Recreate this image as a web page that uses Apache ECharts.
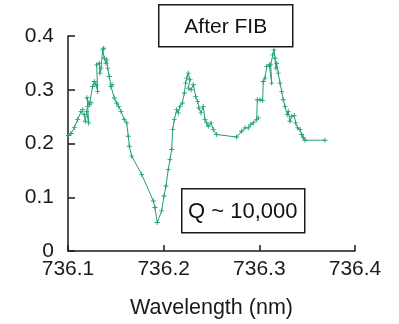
<!DOCTYPE html>
<html><head><meta charset="utf-8">
<script src="https://cdn.jsdelivr.net/npm/echarts@6/dist/echarts.min.js"></script>
<style>html,body{margin:0;padding:0;background:#fff}#c{width:399px;height:324px}</style>
</head><body><div id="c"></div>
<script>
var wavelength = [736.1005,736.1031,736.1066,736.1101,736.1136,736.1154,736.1170,736.1181,736.1195,736.1216,736.1206,736.1199,736.1223,736.1240,736.1258,736.1275,736.1293,736.1310,736.1300,736.1327,736.1334,736.1345,736.1363,736.1373,736.1379,736.1397,736.1405,736.1415,736.1432,736.1449,736.1460,736.1484,736.1509,736.1530,736.1554,736.1588,736.1614,736.1630,736.1641,736.1666,736.1770,736.1892,736.1909,736.1933,736.1979,736.2003,736.2024,736.2048,736.2066,736.2084,736.2094,736.2111,736.2136,736.2153,736.2171,736.2195,736.2216,736.2230,736.2241,736.2257,736.2275,736.2257,736.2286,736.2310,736.2335,736.2356,736.2369,736.2390,736.2414,736.2432,736.2450,736.2466,736.2495,736.2519,736.2554,736.2763,736.2815,736.2850,736.2885,736.2910,736.2937,736.2972,736.2989,736.2979,736.3007,736.3035,736.3041,736.3059,736.3077,736.3104,736.3129,736.3119,736.3140,736.3153,736.3164,736.3174,736.3181,736.3198,736.3216,736.3234,736.3250,736.3268,736.3292,736.3302,736.3320,736.3338,736.3365,736.3380,736.3401,736.3425,736.3443,736.3460,736.3477,736.3686];
var intensity = [0.2148,0.2185,0.2296,0.2444,0.2593,0.2630,0.2537,0.2413,0.2598,0.2383,0.2691,0.2852,0.2722,0.2759,0.3061,0.3154,0.3093,0.2969,0.3463,0.3494,0.3309,0.3402,0.3741,0.3772,0.3587,0.3494,0.3556,0.3402,0.3246,0.3061,0.3093,0.2846,0.2754,0.2691,0.2598,0.2444,0.2383,0.2135,0.1950,0.1765,0.1426,0.0931,0.0809,0.0531,0.0746,0.1024,0.1209,0.1519,0.1704,0.1889,0.2259,0.2444,0.2630,0.2569,0.2691,0.2754,0.2939,0.3124,0.3217,0.3309,0.3185,0.3031,0.3000,0.3093,0.2876,0.2783,0.2661,0.2569,0.2691,0.2444,0.2383,0.2320,0.2383,0.2259,0.2167,0.2120,0.2228,0.2291,0.2291,0.2352,0.2383,0.2444,0.2476,0.2815,0.2815,0.2802,0.3154,0.3217,0.3431,0.3463,0.3124,0.3463,0.3648,0.3741,0.3587,0.3402,0.3494,0.3309,0.3124,0.2969,0.2815,0.2691,0.2537,0.2598,0.2413,0.2506,0.2519,0.2383,0.2291,0.2259,0.2167,0.2106,0.2061,0.2061];
var xTicks = [736.1, 736.2, 736.3, 736.4];
var yTicks = [0, 0.1, 0.2, 0.3, 0.4];
var titleText = 'After FIB';
var qText = 'Q ~ 10,000';
var xName = 'Wavelength (nm)';

var pts = wavelength.map(function(w, i){ return [w, intensity[i]]; });
var chart = echarts.init(document.getElementById('c'));
var FONT = 'Liberation Sans';
chart.setOption({
  animation: false,
  grid: {left: 68, right: 44, top: 36, bottom: 72},
  xAxis: {
    type: 'value', min: xTicks[0], max: xTicks[xTicks.length-1], interval: 0.1,
    splitLine: {show: false},
    axisLine: {lineStyle: {color: '#1a1a1a', width: 1.5}},
    axisTick: {inside: true, length: 6, lineStyle: {color: '#1a1a1a', width: 1.5}},
    axisLabel: {color: '#1a1a1a', fontSize: 21, fontFamily: FONT, margin: 8,
      formatter: function(v){ return v.toFixed(1); }},
    name: xName, nameLocation: 'middle', nameGap: 46,
    nameTextStyle: {color: '#1a1a1a', fontSize: 21.5, fontFamily: FONT}
  },
  yAxis: {
    type: 'value', min: yTicks[0], max: yTicks[yTicks.length-1], interval: 0.1,
    splitLine: {show: false},
    axisLine: {show: true, lineStyle: {color: '#1a1a1a', width: 1.5}},
    axisTick: {show: true, inside: true, length: 7, lineStyle: {color: '#1a1a1a', width: 1.5}},
    axisLabel: {color: '#1a1a1a', fontSize: 21, fontFamily: FONT, margin: 14,
      formatter: function(v){ return v === 0 ? '0' : v.toFixed(1); }}
  },
  series: [{
    type: 'line', data: pts,
    symbol: 'path://M-0.18,-1H0.18V-0.18H1V0.18H0.18V1H-0.18V0.18H-1V-0.18H-0.18Z',
    symbolSize: 5,
    itemStyle: {color: '#1f9e7a'},
    lineStyle: {color: '#1f9e7a', width: 1},
    z: 2
  }],
  graphic: [
    {type: 'group', left: 158, top: 4, children: [
      {type: 'rect', shape: {x: 0, y: 0, width: 134, height: 42},
        style: {fill: '#fff', stroke: '#1a1a1a', lineWidth: 1.5}},
      {type: 'text', x: 67, y: 22, style: {text: titleText, fill: '#111', font: '21px "Liberation Sans"', align: 'center', verticalAlign: 'middle'}}
    ]},
    {type: 'group', left: 181, top: 188, children: [
      {type: 'rect', shape: {x: 0, y: 0, width: 123, height: 44},
        style: {fill: '#fff', stroke: '#1a1a1a', lineWidth: 1.5}},
      {type: 'text', x: 61, y: 23, style: {text: qText, fill: '#111', font: '22px "Liberation Sans"', align: 'center', verticalAlign: 'middle'}}
    ]}
  ]
});
</script></body></html>
